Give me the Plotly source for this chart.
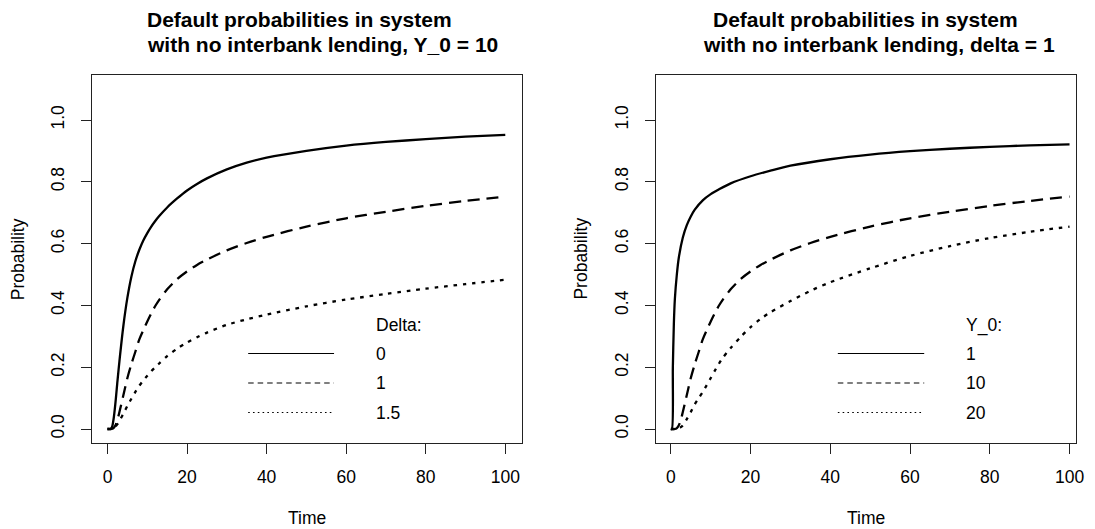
import plotly.graph_objects as go

# ---------------- data ----------------
t_left = [0, 1, 1.5, 2, 2.5, 3, 4, 5, 6, 7, 8, 9, 10, 11, 12, 13, 15, 17.5, 20, 22.5, 25, 30,
          35, 40, 50, 60, 70, 80, 90, 100]
p_y10_d0 = [0, 0.003, 0.03, 0.085, 0.155, 0.22, 0.335, 0.425, 0.493, 0.543, 0.58, 0.61, 0.634,
            0.655, 0.673, 0.689, 0.717, 0.746, 0.772, 0.793, 0.811, 0.84, 0.862, 0.878, 0.9,
            0.917, 0.929, 0.938, 0.946, 0.952]
p_y10_d1 = [0, 0, 0.003, 0.012, 0.03, 0.055, 0.11, 0.165, 0.21, 0.25, 0.29, 0.32, 0.348, 0.374,
            0.398, 0.418, 0.452, 0.485, 0.51, 0.531, 0.548, 0.578, 0.602, 0.622, 0.655, 0.682,
            0.703, 0.722, 0.738, 0.752]
p_y10_d15 = [0, 0, 0.002, 0.008, 0.016, 0.026, 0.05, 0.075, 0.098, 0.12, 0.14, 0.157, 0.172, 0.187,
             0.2, 0.212, 0.236, 0.26, 0.28, 0.297, 0.312, 0.337, 0.355, 0.37, 0.397, 0.419,
             0.437, 0.454, 0.469, 0.483]

t_y1 = [0, 0.25, 0.5, 0.75, 1, 1.5, 2, 3, 4, 5, 6, 8, 10, 12, 15, 20, 25, 30, 40, 50, 60, 70, 80, 90, 100]
p_y1_d1 = [0, 0.0, 0.2, 0.34, 0.42, 0.5, 0.555, 0.62, 0.66, 0.688, 0.71, 0.74, 0.76, 0.775, 0.795,
           0.818, 0.836, 0.852, 0.873, 0.888, 0.899, 0.907, 0.913, 0.918, 0.921]
p_y20_d1 = [0, 0, 0, 0.002, 0.006, 0.012, 0.032, 0.055, 0.08, 0.1, 0.12, 0.142, 0.165, 0.188,
            0.21, 0.23, 0.262, 0.298, 0.33, 0.356, 0.378, 0.414, 0.447, 0.475, 0.52, 0.56,
            0.592, 0.618, 0.638, 0.655]

left_title = ["Default probabilities in system", "with no interbank lending, Y_0 = 10"]
right_title = ["Default probabilities in system", "with no interbank lending, delta = 1"]
left_legend_title, left_labels = "Delta:", ["0", "1", "1.5"]
right_legend_title, right_labels = "Y_0:", ["1", "10", "20"]
x_ticks = [0, 20, 40, 60, 80, 100]
y_ticks = [0.0, 0.2, 0.4, 0.6, 0.8, 1.0]
y_ticktext = ["0.0", "0.2", "0.4", "0.6", "0.8", "1.0"]
x_label, y_label = "Time", "Probability"

# ---------------- layout geometry (pixels) ----------------
W, H = 1095, 529
FONT = "Liberation Sans, Arial, Helvetica, sans-serif"
FS = 17.5
INK = "#222222"

def fx(px):
    return px / W

def fy(py):
    return 1 - py / H

box_top, box_bot = 75, 442.7
L_box = (92.3, 525.7)
R_box = (660.7, 1084.0)
L_x0, L_scale = 108.3, 4.007
R_x0, R_scale = 675.8, 4.016
y0_px, y_scale = 429.0, 309.0

curve_w = 2.3
dash_styles = ["solid", "12px,7px", "3.6px,5.8px"]
leg_dash = ["solid", "5.5px,4px", "1.6px,3.2px"]

fig = go.Figure()

series_left = [(t_left, p_y10_d0), (t_left, p_y10_d1), (t_left, p_y10_d15)]
series_right = [(t_y1, p_y1_d1), (t_left, p_y10_d1), (t_left, p_y20_d1)]

for axes, series in (("", series_left), ("2", series_right)):
    for i, (ts, ys) in enumerate(series):
        fig.add_trace(go.Scatter(x=ts, y=ys, mode="lines", xaxis="x" + axes, yaxis="y" + axes,
                                 line=dict(color="black", width=curve_w, dash=dash_styles[i],
                                           shape="spline", smoothing=0.8),
                                 showlegend=False, hoverinfo="skip"))

def xaxis_cfg(box, x0, scale, anchor):
    return dict(
        domain=[fx(box[0]), fx(box[1])],
        range=[(box[0] - x0) / scale, (box[1] - x0) / scale],
        tickvals=x_ticks, ticks="outside", ticklen=10, tickwidth=1, tickcolor=INK,
        showline=True, linecolor=INK, linewidth=1, mirror=True,
        showgrid=False, zeroline=False, fixedrange=True, anchor=anchor,
        tickfont=dict(family=FONT, size=FS, color="black"),
        ticklabelstandoff=8,
    )

def yaxis_cfg(anchor):
    return dict(
        domain=[fy(box_bot), fy(box_top)],
        range=[(y0_px - box_bot) / y_scale, (y0_px - box_top) / y_scale],
        tickvals=y_ticks, ticktext=y_ticktext, tickangle=-90,
        ticks="outside", ticklen=10, tickwidth=1, tickcolor=INK,
        showline=True, linecolor=INK, linewidth=1, mirror=True,
        showgrid=False, zeroline=False, fixedrange=True, anchor=anchor,
        tickfont=dict(family=FONT, size=FS, color="black"),
        ticklabelstandoff=10,
    )

annotations = []
shapes = []

def add_text(text, x, y, size=FS, bold=False, angle=0, xanchor="center", yanchor="middle"):
    annotations.append(dict(text=f"<b>{text}</b>" if bold else text,
                            x=fx(x), y=fy(y), xref="paper", yref="paper",
                            xanchor=xanchor, yanchor=yanchor, showarrow=False,
                            textangle=angle, font=dict(family=FONT, size=size, color="black")))

# titles
add_text(left_title[0], 146.5, 19.5, size=21, bold=True, xanchor="left")
add_text(left_title[1], 146.5, 44.0, size=21, bold=True, xanchor="left")
add_text(right_title[0], 716.0, 19.5, size=21, bold=True, xanchor="left")
add_text(right_title[1], 706.0, 44.0, size=21, bold=True, xanchor="left")

# axis titles
add_text(x_label, (L_box[0] + L_box[1]) / 2, 518, xanchor="center")
add_text(x_label, (R_box[0] + R_box[1]) / 2, 518, xanchor="center")
add_text(y_label, 17.5, (box_top + box_bot) / 2, angle=-90)
add_text(y_label, 585.0, (box_top + box_bot) / 2, angle=-90)

# legends
def add_legend(title, labels, line_x0, line_x1, text_x):
    rows = [325.0, 353.5, 383.0, 412.5]
    add_text(title, text_x, rows[0], xanchor="left")
    for i, lab in enumerate(labels):
        yy = rows[i + 1]
        shapes.append(dict(type="line", xref="paper", yref="paper",
                           x0=fx(line_x0), x1=fx(line_x1), y0=fy(yy), y1=fy(yy),
                           line=dict(color="black", width=1.2, dash=leg_dash[i])))
        add_text(lab, text_x, yy, xanchor="left")

add_legend(left_legend_title, left_labels, 250.0, 336.5, 377.0)
add_legend(right_legend_title, right_labels, 844.0, 931.0, 971.0)

fig.update_layout(
    width=W, height=H, autosize=False,
    margin=dict(l=0, r=0, t=0, b=0),
    paper_bgcolor="white", plot_bgcolor="white",
    xaxis=xaxis_cfg(L_box, L_x0, L_scale, "y"),
    yaxis=yaxis_cfg("x"),
    xaxis2=xaxis_cfg(R_box, R_x0, R_scale, "y2"),
    yaxis2=yaxis_cfg("x2"),
    annotations=annotations,
    shapes=shapes,
    showlegend=False,
)

fig.write_html(
    "out.html",
    config={"displayModeBar": False},
    post_script="document.body.style.margin='0';document.body.style.overflow='hidden';"
                "document.documentElement.style.overflow='hidden';",
)
